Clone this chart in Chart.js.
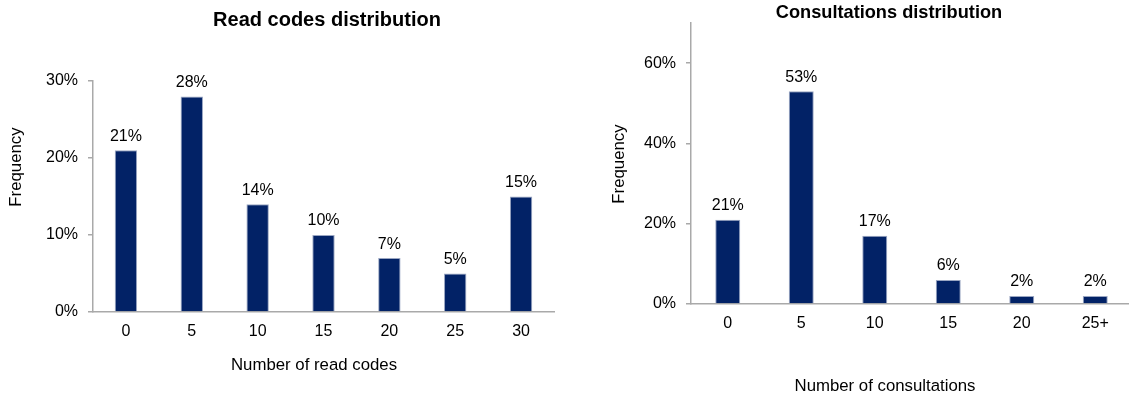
<!DOCTYPE html>
<html>
<head>
<meta charset="utf-8">
<title>Read codes and consultations</title>
<script src="https://cdn.jsdelivr.net/npm/chart.js@4"></script>
<style>
    html, body {
        margin: 0;
        padding: 0;
        background: #ffffff;
        overflow: hidden;
    }
    #wrap {
        position: relative;
        width: 1129px;
        height: 400px;
    }
    .panel {
        position: absolute;
        top: 0;
        height: 400px;
    }
    #readPanel { left: 0; width: 565px; }
    #consultPanel { left: 565px; width: 567px; }
</style>
</head>
<body>
<div id="wrap">
    <div class="panel" id="readPanel"><canvas id="readChart" width="565" height="400"></canvas></div>
    <div class="panel" id="consultPanel"><canvas id="consultChart" width="567" height="400"></canvas></div>
</div>
<script>
// Read codes per patient (share of patients, %)
const readCodeBins = ['0', '5', '10', '15', '20', '25', '30'];
const readCodeShares = [21, 28, 14, 10, 7, 5, 15];
const readCodeTicks = [0, 10, 20, 30];
const readCodeMax = 30;

// Consultations per patient (share of patients, %)
const consultBins = ['0', '5', '10', '15', '20', '25+'];
const consultShares = [21, 53, 17, 6, 2, 2];
const consultTicks = [0, 20, 40, 60];
const consultMax = 70;

const fontFamily = '"Liberation Sans", Arial, Helvetica, sans-serif';
const textColor = '#000000';
const axisGrey = '#a9a9a9';
const barBlue = '#022266';

Chart.defaults.font.family = fontFamily;
Chart.defaults.color = textColor;

// percentage written above each bar
const valueLabels = {
    id: 'valueLabels',
    afterDatasetsDraw(chart) {
        const ctx = chart.ctx;
        const meta = chart.getDatasetMeta(0);
        const values = chart.data.datasets[0].data;
        ctx.save();
        ctx.font = `16px ${fontFamily}`;
        ctx.fillStyle = textColor;
        ctx.textAlign = 'center';
        ctx.textBaseline = 'middle';
        meta.data.forEach((bar, i) => {
            ctx.fillText(`${values[i]}%`, bar.x, bar.y - 14);
        });
        ctx.restore();
    }
};

// chart heading and axis captions, placed freely on the canvas
const captions = {
    id: 'captions',
    afterDraw(chart, args, opts) {
        const ctx = chart.ctx;
        (opts.items || []).forEach(item => {
            ctx.save();
            ctx.translate(item.x, item.y);
            if (item.vertical) ctx.rotate(-Math.PI / 2);
            ctx.font = `${item.bold ? 'bold ' : ''}${item.size || 16.8}px ${fontFamily}`;
            ctx.fillStyle = textColor;
            ctx.textAlign = 'center';
            ctx.textBaseline = 'middle';
            ctx.fillText(item.text, 0, 0);
            ctx.restore();
        });
    }
};

function makeChart(canvasId, setup) {
    const ctx = document.getElementById(canvasId).getContext('2d');
    return new Chart(ctx, {
        type: 'bar',
        data: {
            labels: setup.labels,
            datasets: [{
                data: setup.values,
                backgroundColor: barBlue,
                borderColor: '#9aa6c2',
                borderWidth: 1,
                barPercentage: 0.34,
                categoryPercentage: 1
            }]
        },
        plugins: [valueLabels, captions],
        options: {
            responsive: false,
            animation: false,
            layout: {
                padding: { left: 0, right: setup.padRight, top: setup.padTop, bottom: 0 }
            },
            plugins: {
                legend: { display: false },
                tooltip: { enabled: false },
                title: { display: false },
                captions: { items: setup.captions }
            },
            scales: {
                x: {
                    grid: { display: false, drawTicks: false },
                    border: { display: true, color: axisGrey, width: 1.5 },
                    ticks: { color: textColor, font: { size: 16 }, padding: 10 },
                    afterFit: scale => { scale.height = setup.xHeight; }
                },
                y: {
                    min: 0,
                    max: setup.max,
                    grid: {
                        display: true,
                        drawOnChartArea: false,
                        drawTicks: true,
                        tickLength: 5,
                        color: axisGrey,
                        lineWidth: 1.5
                    },
                    border: { display: true, color: axisGrey, width: 1.5 },
                    ticks: {
                        color: textColor,
                        font: { size: 16 },
                        padding: 10,
                        callback: value => `${value}%`
                    },
                    afterBuildTicks: scale => {
                        scale.ticks = setup.ticks.map(v => ({ value: v }));
                    },
                    afterFit: scale => { scale.width = setup.yWidth; }
                }
            }
        }
    });
}

makeChart('readChart', {
    labels: readCodeBins,
    values: readCodeShares,
    ticks: readCodeTicks,
    max: readCodeMax,
    padTop: 81,
    yWidth: 93,
    xHeight: 88,
    padRight: 11,
    captions: [
        { text: 'Read codes distribution', x: 327, y: 20, size: 20, bold: true },
        { text: 'Frequency', x: 16, y: 167, vertical: true },
        { text: 'Number of read codes', x: 314, y: 365 }
    ]
});

makeChart('consultChart', {
    labels: consultBins,
    values: consultShares,
    ticks: consultTicks,
    max: consultMax,
    padTop: 23,
    yWidth: 126,
    xHeight: 96,
    padRight: 0,
    captions: [
        { text: 'Consultations distribution', x: 324, y: 13, size: 18.2, bold: true },
        { text: 'Frequency', x: 54, y: 164, vertical: true },
        { text: 'Number of consultations', x: 320, y: 386 }
    ]
});
</script>
</body>
</html>
